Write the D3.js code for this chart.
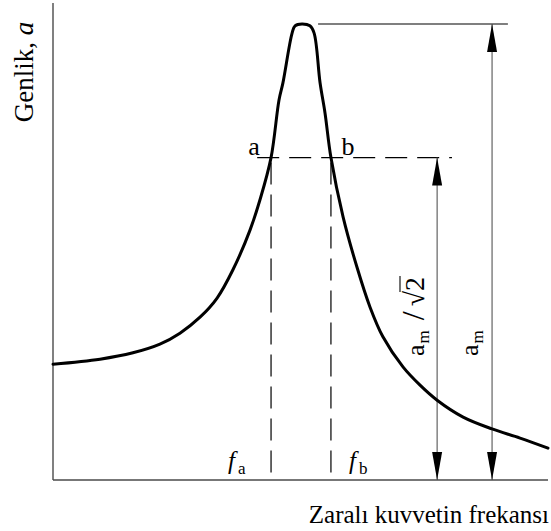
<!DOCTYPE html>
<html>
<head>
<meta charset="utf-8">
<script src="https://cdn.jsdelivr.net/npm/d3@7"></script>
<style>
  html, body { margin: 0; padding: 0; background: #fff; }
  svg { display: block; font-family: "Liberation Serif", "Times New Roman", serif; }
</style>
</head>
<body>
<svg id="chart" width="551" height="531"></svg>
<script>
// Resonance curve: amplitude vs. frequency ratio of the exciting force
const freqRatio = [0, 0.19, 0.323, 0.432, 0.513, 0.594, 0.663, 0.727, 0.796, 0.836, 0.881,
  0.913, 0.929, 0.966, 0.978, 1.006, 1.038, 1.055, 1.079, 1.099, 1.123, 1.172, 1.228,
  1.281, 1.333, 1.414, 1.483, 1.552, 1.657, 1.774, 1.887, 2.0];
const amplitude = [0.254, 0.265, 0.279, 0.298, 0.322, 0.357, 0.399, 0.461, 0.548, 0.614, 0.707,
  0.833, 0.871, 0.980, 0.996, 1.0, 0.996, 0.980, 0.871, 0.805, 0.707, 0.577, 0.467,
  0.379, 0.314, 0.248, 0.208, 0.175, 0.138, 0.112, 0.092, 0.070];
const peakAmplitude = 1.0;                  // a_m
const halfPowerAmplitude = peakAmplitude / Math.SQRT2;  // a_m / √2
const bandEdges = [0.881, 1.123];           // f_a, f_b
const bandLabels = ["a", "b"];
const freqLabels = ["a", "b"];              // subscripts of f
const axisTitles = ["Genlik, ", "a", "Zaralı kuvvetin frekansı"];

const svg = d3.select("#chart");
const x = d3.scaleLinear().domain([0, 2]).range([53, 548]);
const y = d3.scaleLinear().domain([0, peakAmplitude]).range([480, 24]);
const data = freqRatio.map((f, i) => ({ f, a: amplitude[i] }));

// axes (plain lines, no ticks)
svg.append("line").attr("x1", x(0)).attr("x2", x(0)).attr("y1", 3).attr("y2", y(0))
  .attr("stroke", "#4a4a4a").attr("stroke-width", 1.4);
svg.append("line").attr("x1", x(0)).attr("x2", x(2)).attr("y1", y(0)).attr("y2", y(0))
  .attr("stroke", "#4a4a4a").attr("stroke-width", 1.4);

// half-power level and band edges
svg.append("line").attr("x1", x(0.825)).attr("x2", x(1.612))
  .attr("y1", y(halfPowerAmplitude)).attr("y2", y(halfPowerAmplitude))
  .attr("stroke", "#000").attr("stroke-width", 1.2).attr("stroke-dasharray", "22,10");
svg.selectAll("line.edge").data(bandEdges).join("line").attr("class", "edge")
  .attr("x1", d => x(d)).attr("x2", d => x(d))
  .attr("y1", y(halfPowerAmplitude) + 5).attr("y2", y(0))
  .attr("stroke", "#000").attr("stroke-width", 1.2).attr("stroke-dasharray", "22,10");

// peak level line
svg.append("line").attr("x1", x(1.071)).attr("x2", x(1.838))
  .attr("y1", y(peakAmplitude)).attr("y2", y(peakAmplitude))
  .attr("stroke", "#000").attr("stroke-width", 1.1);

// dimension arrows
function dimArrow(fx, top) {
  const cx = x(fx), yTop = y(top), yBot = y(0);
  svg.append("line").attr("x1", cx).attr("x2", cx).attr("y1", yTop).attr("y2", yBot)
    .attr("stroke", "#555").attr("stroke-width", 1.1);
  svg.append("path").attr("d", `M${cx},${yTop} L${cx - 5},${yTop + 28} L${cx + 5},${yTop + 28} Z`)
    .attr("fill", "#000");
  svg.append("path").attr("d", `M${cx},${yBot} L${cx - 5},${yBot - 28} L${cx + 5},${yBot - 28} Z`)
    .attr("fill", "#000");
}
dimArrow(1.552, halfPowerAmplitude);
dimArrow(1.774, peakAmplitude);

// resonance curve
svg.append("path").datum(data)
  .attr("d", d3.line().x(d => x(d.f)).y(d => y(d.a)).curve(d3.curveCatmullRom.alpha(0.5)))
  .attr("fill", "none").attr("stroke", "#000").attr("stroke-width", 3)
  .attr("stroke-linejoin", "round").attr("stroke-linecap", "round");

// point labels a, b
svg.selectAll("text.pt").data(bandEdges).join("text").attr("class", "pt")
  .attr("x", (d, i) => x(d) + (i === 0 ? -17 : 17)).attr("y", y(halfPowerAmplitude) - 3)
  .attr("text-anchor", "middle").attr("font-size", 26)
  .text((d, i) => bandLabels[i]);

// f_a, f_b
bandEdges.forEach((d, i) => {
  const t = svg.append("text")
    .attr("x", i === 0 ? x(d) - 43 : x(d) + 18).attr("y", 469).attr("font-size", 25);
  t.append("tspan").attr("font-style", "italic").text("f");
  t.append("tspan").attr("dx", 3).attr("dy", 5).attr("font-size", 17).text(freqLabels[i]);
});

// a_m / √2 label (rotated)
function rotatedAm(cx, cy, withRoot) {
  const g = svg.append("g").attr("transform", `translate(${cx},${cy}) rotate(-90)`);
  const t = g.append("text").attr("x", 0).attr("y", 0).attr("font-size", 26);
  t.append("tspan").text("a");
  t.append("tspan").attr("dx", 1).attr("dy", 5).attr("font-size", 17).text("m");
  if (withRoot) {
    t.append("tspan").attr("dy", -5).attr("dx", 10).attr("font-size", 32).text("/");
    t.append("tspan").attr("dx", 5).attr("font-size", 28).text("√");
    t.append("tspan").attr("font-size", 28).text("2");
    const n = t.node();
    const len = n.getNumberOfChars();
    const s = n.getStartPositionOfChar(len - 1).x;
    const e = n.getEndPositionOfChar(len - 1).x;
    g.append("line").attr("x1", s - 1).attr("x2", e + 1).attr("y1", -24).attr("y2", -24)
      .attr("stroke", "#000").attr("stroke-width", 1.1);
  }
}
rotatedAm(424, 356, true);
rotatedAm(478, 356, false);

// axis titles
const yt = svg.append("text").attr("transform", "translate(33,72) rotate(-90)")
  .attr("text-anchor", "middle").attr("font-size", 27);
yt.append("tspan").text(axisTitles[0]);
yt.append("tspan").attr("font-style", "italic").text(axisTitles[1]);

svg.append("text").attr("x", 549).attr("y", 523).attr("text-anchor", "end")
  .attr("font-size", 25).text(axisTitles[2]);
</script>
</body>
</html>
